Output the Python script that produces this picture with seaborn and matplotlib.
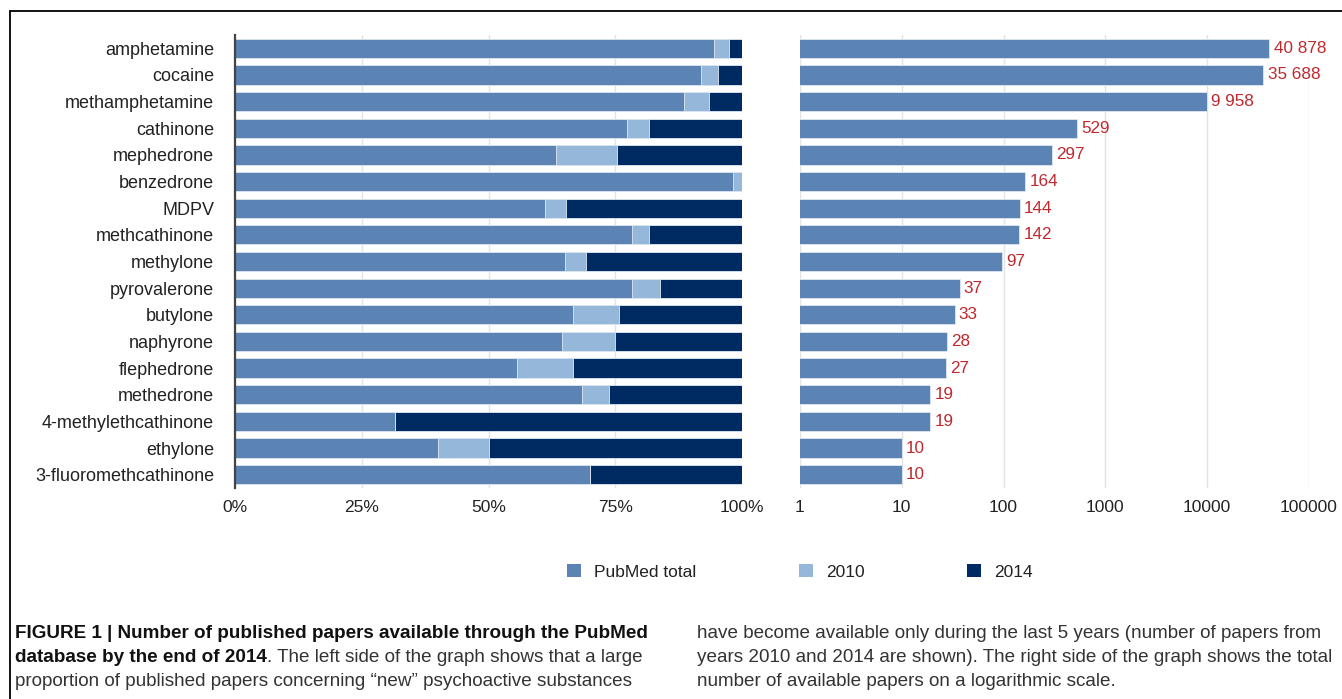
import numpy as np
import pandas as pd
import matplotlib
matplotlib.use("Agg")
import matplotlib.pyplot as plt
from matplotlib.patches import Patch
from matplotlib.lines import Line2D
import seaborn as sns

# ---------------- data ----------------
substances = ["amphetamine", "cocaine", "methamphetamine", "cathinone", "mephedrone",
              "benzedrone", "MDPV", "methcathinone", "methylone", "pyrovalerone",
              "butylone", "naphyrone", "flephedrone", "methedrone",
              "4-methylethcathinone", "ethylone", "3-fluoromethcathinone"]
# share of papers (%) in each stacked segment
share_pubmed = [94.4, 91.9, 88.5, 77.3, 63.4, 98.2, 61.2, 78.3, 65.0, 78.4,
                66.7, 64.4, 55.6, 68.5, 31.5, 40.0, 70.0]
share_2010 = [3.1, 3.4, 4.9, 4.3, 12.0, 1.8, 4.1, 3.4, 4.2, 5.5,
              9.0, 10.6, 11.1, 5.2, 0.0, 10.0, 0.0]
share_2014 = [2.5, 4.7, 6.6, 18.4, 24.6, 0.0, 34.7, 18.3, 30.8, 16.1,
              24.3, 25.0, 33.3, 26.3, 68.5, 50.0, 30.0]
total_papers = [40878, 35688, 9958, 529, 297, 164, 144, 142, 97, 37,
                33, 28, 27, 19, 19, 10, 10]
pct_ticks = [0, 25, 50, 75, 100]
pct_labels = ["0%", "25%", "50%", "75%", "100%"]
log_ticks = [1, 10, 100, 1000, 10000, 100000]
log_labels = ["1", "10", "100", "1000", "10000", "100000"]
legend_labels = ["PubMed total", "2010", "2014"]

c_pub = "#5b84b5"
c_2010 = "#95b8da"
c_2014 = "#002a62"
c_val = "#c0282d"
c_grid = "#e3e3e3"

df = pd.DataFrame({"substance": substances,
                   "pub": share_pubmed, "y2010": share_2010, "y2014": share_2014,
                   "total": total_papers})
df["cum1"] = df["pub"]
df["cum2"] = df["pub"] + df["y2010"]
df["cum3"] = df["cum2"] + df["y2014"]

sns.set_theme(style="white")
plt.rcParams["font.family"] = ["Liberation Sans", "DejaVu Sans"]

W, H = 1342, 699
fig = plt.figure(figsize=(W / 100, H / 100), dpi=100)

def fx(px):
    return px / W

def fy(py):
    return 1 - py / H

top, bot = 35, 488
ax1 = fig.add_axes([fx(235), fy(bot), fx(742) - fx(235), fy(top) - fy(bot)])
ax2 = fig.add_axes([fx(800), fy(bot), fx(1309) - fx(800), fy(top) - fy(bot)])

bw = 0.72
ec = "#dfe8f2"
# stacked bars via layered cumulative bars
sns.barplot(data=df, y="substance", x="cum3", color=c_2014, ax=ax1, width=bw,
            edgecolor=ec, linewidth=0.6, saturation=1, orient="h")
sns.barplot(data=df, y="substance", x="cum2", color=c_2010, ax=ax1, width=bw,
            edgecolor=ec, linewidth=0.6, saturation=1, orient="h")
sns.barplot(data=df, y="substance", x="cum1", color=c_pub, ax=ax1, width=bw,
            edgecolor=ec, linewidth=0.6, saturation=1, orient="h")

ax1.set_xlim(0, 100)
ax1.set_ylim(len(substances) - 0.5, -0.5)
ax1.set_xticks(pct_ticks)
ax1.set_xticklabels(pct_labels)
ax1.set_xlabel("")
ax1.set_ylabel("")
ax1.set_axisbelow(True)
ax1.xaxis.grid(True, color=c_grid, linewidth=1.0)
ax1.yaxis.grid(False)
for s in ["top", "right", "bottom"]:
    ax1.spines[s].set_visible(False)
ax1.spines["left"].set_color("#444444")
ax1.spines["left"].set_linewidth(1.6)
ax1.tick_params(axis="y", length=0, pad=15, labelsize=13, labelcolor="#222222")
ax1.tick_params(axis="x", length=0, pad=9, labelsize=12.5, labelcolor="#222222")

# right: totals on log scale
sns.barplot(data=df, y="substance", x="total", color=c_pub, ax=ax2, width=bw,
            edgecolor=ec, linewidth=0.6, saturation=1, orient="h")
ax2.set_xscale("log")
ax2.set_xlim(1, 100000)
ax2.set_ylim(len(substances) - 0.5, -0.5)
ax2.set_xticks(log_ticks)
ax2.set_xticklabels(log_labels)
ax2.xaxis.set_minor_locator(matplotlib.ticker.NullLocator())
ax2.set_yticks([])
ax2.set_xlabel("")
ax2.set_ylabel("")
ax2.set_axisbelow(True)
ax2.xaxis.grid(True, color=c_grid, linewidth=1.0)
for s in ["top", "right", "bottom", "left"]:
    ax2.spines[s].set_visible(False)
ax2.tick_params(axis="x", length=0, pad=9, labelsize=12.5, labelcolor="#222222")

val_labels = ["{:,}".format(v).replace(",", " ") for v in total_papers]
ax2.bar_label(ax2.containers[0], labels=val_labels, padding=3, color=c_val,
              fontsize=12.3)

# legend
handles = [Patch(facecolor=c, edgecolor="none") for c in (c_pub, c_2010, c_2014)]
fig.legend(handles, legend_labels, loc="center", bbox_to_anchor=(fx(800), fy(572)),
           ncol=3, frameon=False, fontsize=12.5, handlelength=0.8, handleheight=0.8,
           handletextpad=0.75, columnspacing=5.9, labelcolor="#222222")

# frame lines
fig.add_artist(Line2D([fx(10), 1], [fy(11), fy(11)], color="black", linewidth=1.3))
fig.add_artist(Line2D([fx(10), fx(10)], [fy(11), 0], color="black", linewidth=1.3))

# caption
cap_family = ["Liberation Sans", "DejaVu Sans"]
cfs = 13.6
ccol = "#111111"
fig.text(fx(15), fy(633), "FIGURE 1 | Number of published papers available through the PubMed",
         fontsize=cfs, fontweight="bold", family=cap_family, va="center", color=ccol)
t2 = fig.text(fx(15), fy(657), "database by the end of 2014",
              fontsize=cfs, fontweight="bold", family=cap_family, va="center", color=ccol)
ax1.annotate(". The left side of the graph shows that a large", xy=(1, 0), xycoords=t2,
             va="bottom", ha="left", fontsize=cfs, family=cap_family, color="#333333",
             annotation_clip=False)
fig.text(fx(15), fy(681), "proportion of published papers concerning \u201cnew\u201d psychoactive substances",
         fontsize=cfs, family=cap_family, va="center", color="#333333")
fig.text(fx(697), fy(633), "have become available only during the last 5 years (number of papers from",
         fontsize=cfs, family=cap_family, va="center", color="#333333")
fig.text(fx(697), fy(657), "years 2010 and 2014 are shown). The right side of the graph shows the total",
         fontsize=cfs, family=cap_family, va="center", color="#333333")
fig.text(fx(697), fy(681), "number of available papers on a logarithmic scale.",
         fontsize=cfs, family=cap_family, va="center", color="#333333")

fig.savefig("out.png", dpi=100, facecolor="white")
